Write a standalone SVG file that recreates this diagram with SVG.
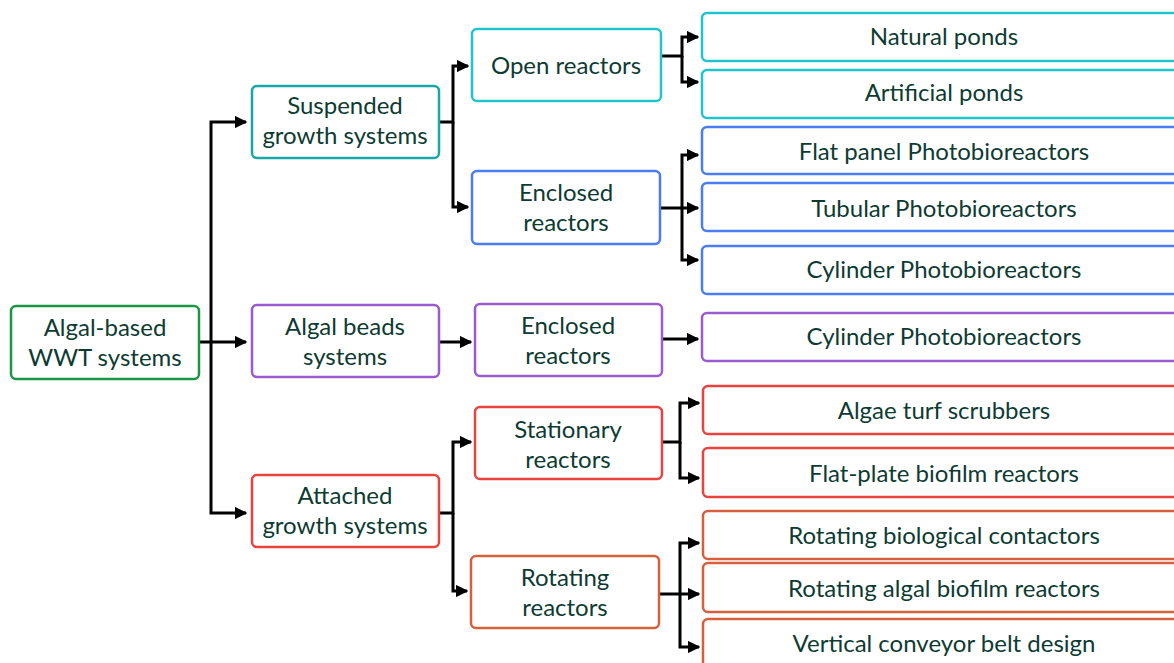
<svg xmlns="http://www.w3.org/2000/svg" width="1174" height="663" viewBox="0 0 1174 663">
<defs>
<marker id="ah" viewBox="0 0 10 10" refX="9" refY="5" markerWidth="4.2" markerHeight="4.2" orient="auto" markerUnits="strokeWidth">
<path d="M0,0 L10,5 L0,10 z" fill="#000"/>
</marker>
<style>
rect{fill:#fff;stroke-width:2.5}
text{font-family:Lato,"Open Sans",sans-serif;font-size:24px;fill:#0d3b32;text-anchor:middle;dominant-baseline:central}
.g{stroke:#1a9645}.t{stroke:#1aa7a8}.c{stroke:#22c4cb}.b{stroke:#4a7cf2}.p{stroke:#9b5bd0}.r{stroke:#e8433f}.o{stroke:#d6603d}
#connectors path{fill:none;stroke:#000;stroke-width:3}
</style>
</defs>
<rect width="1174" height="663" fill="#fff" stroke="none"/>
<g id="connectors">
<path d="M199,342 H246" marker-end="url(#ah)"/>
<path d="M211,342 V122 H246" marker-end="url(#ah)"/>
<path d="M211,342 V513 H246" marker-end="url(#ah)"/>
<path d="M439,122 H453 V66 H468" marker-end="url(#ah)"/>
<path d="M453,122 V207 H468" marker-end="url(#ah)"/>
<path d="M439,342 H471" marker-end="url(#ah)"/>
<path d="M439,513 H453 V442 H471" marker-end="url(#ah)"/>
<path d="M453,513 V591 H467" marker-end="url(#ah)"/>
<path d="M661,56 H682 V37 H698" marker-end="url(#ah)"/>
<path d="M682,56 V82 H698" marker-end="url(#ah)"/>
<path d="M660,208 H698" marker-end="url(#ah)"/>
<path d="M682,208 V155 H698" marker-end="url(#ah)"/>
<path d="M682,208 V260 H698" marker-end="url(#ah)"/>
<path d="M662,339 H698" marker-end="url(#ah)"/>
<path d="M662,442 H680 V403 H699" marker-end="url(#ah)"/>
<path d="M680,442 V478 H699" marker-end="url(#ah)"/>
<path d="M659,594 H699" marker-end="url(#ah)"/>
<path d="M680,594 V543 H699" marker-end="url(#ah)"/>
<path d="M680,594 V647 H699" marker-end="url(#ah)"/>
</g>
<g id="root"><rect class="g" x="11" y="306" width="188" height="73" rx="5"/><text x="105" y="326">Algal-based</text><text x="105" y="356">WWT systems</text></g>
<g id="suspended"><rect class="t" x="252" y="86" width="187" height="72" rx="5"/><text x="345" y="104">Suspended</text><text x="345" y="134">growth systems</text></g>
<g id="beads"><rect class="p" x="252" y="305" width="187" height="72" rx="5"/><text x="345" y="325">Algal beads</text><text x="345" y="355">systems</text></g>
<g id="attached"><rect class="r" x="252" y="475" width="187" height="72" rx="5"/><text x="345" y="494">Attached</text><text x="345" y="524">growth systems</text></g>
<g id="open"><rect class="c" x="472" y="29" width="189" height="72" rx="5"/><text x="566" y="64">Open reactors</text></g>
<g id="enclosed1"><rect class="b" x="472" y="171" width="188" height="73" rx="5"/><text x="566" y="191">Enclosed</text><text x="566" y="221">reactors</text></g>
<g id="enclosed2"><rect class="p" x="475" y="304" width="187" height="72" rx="5"/><text x="568" y="324">Enclosed</text><text x="568" y="354">reactors</text></g>
<g id="stationary"><rect class="r" x="475" y="407" width="187" height="72" rx="5"/><text x="568" y="428">Stationary</text><text x="568" y="458">reactors</text></g>
<g id="rotating"><rect class="o" x="471" y="556" width="188" height="72" rx="5"/><text x="565" y="576">Rotating</text><text x="565" y="606">reactors</text></g>
<g id="natural"><rect class="c" x="702" y="13" width="484" height="48" rx="5"/><text x="944" y="35">Natural ponds</text></g>
<g id="artificial"><rect class="c" x="702" y="70" width="484" height="48" rx="5"/><text x="944" y="91">Artificial ponds</text></g>
<g id="flatpanel"><rect class="b" x="702" y="127" width="484" height="47" rx="5"/><text x="944" y="150">Flat panel Photobioreactors</text></g>
<g id="tubular"><rect class="b" x="702" y="183" width="484" height="48" rx="5"/><text x="944" y="207">Tubular Photobioreactors</text></g>
<g id="cylinder1"><rect class="b" x="702" y="246" width="484" height="48" rx="5"/><text x="944" y="268">Cylinder Photobioreactors</text></g>
<g id="cylinder2"><rect class="p" x="702" y="313" width="484" height="48" rx="5"/><text x="944" y="335">Cylinder Photobioreactors</text></g>
<g id="turf"><rect class="r" x="703" y="386" width="484" height="48" rx="5"/><text x="944" y="409">Algae turf scrubbers</text></g>
<g id="flatplate"><rect class="r" x="703" y="448" width="484" height="49" rx="5"/><text x="944" y="472">Flat-plate biofilm reactors</text></g>
<g id="rbc"><rect class="o" x="703" y="511" width="484" height="48" rx="5"/><text x="944" y="534">Rotating biological contactors</text></g>
<g id="rabr"><rect class="o" x="703" y="563" width="484" height="49" rx="5"/><text x="944" y="587">Rotating algal biofilm reactors</text></g>
<g id="vcb"><rect class="o" x="703" y="619" width="484" height="60" rx="5"/><text x="944" y="642">Vertical conveyor belt design</text></g>
</svg>
